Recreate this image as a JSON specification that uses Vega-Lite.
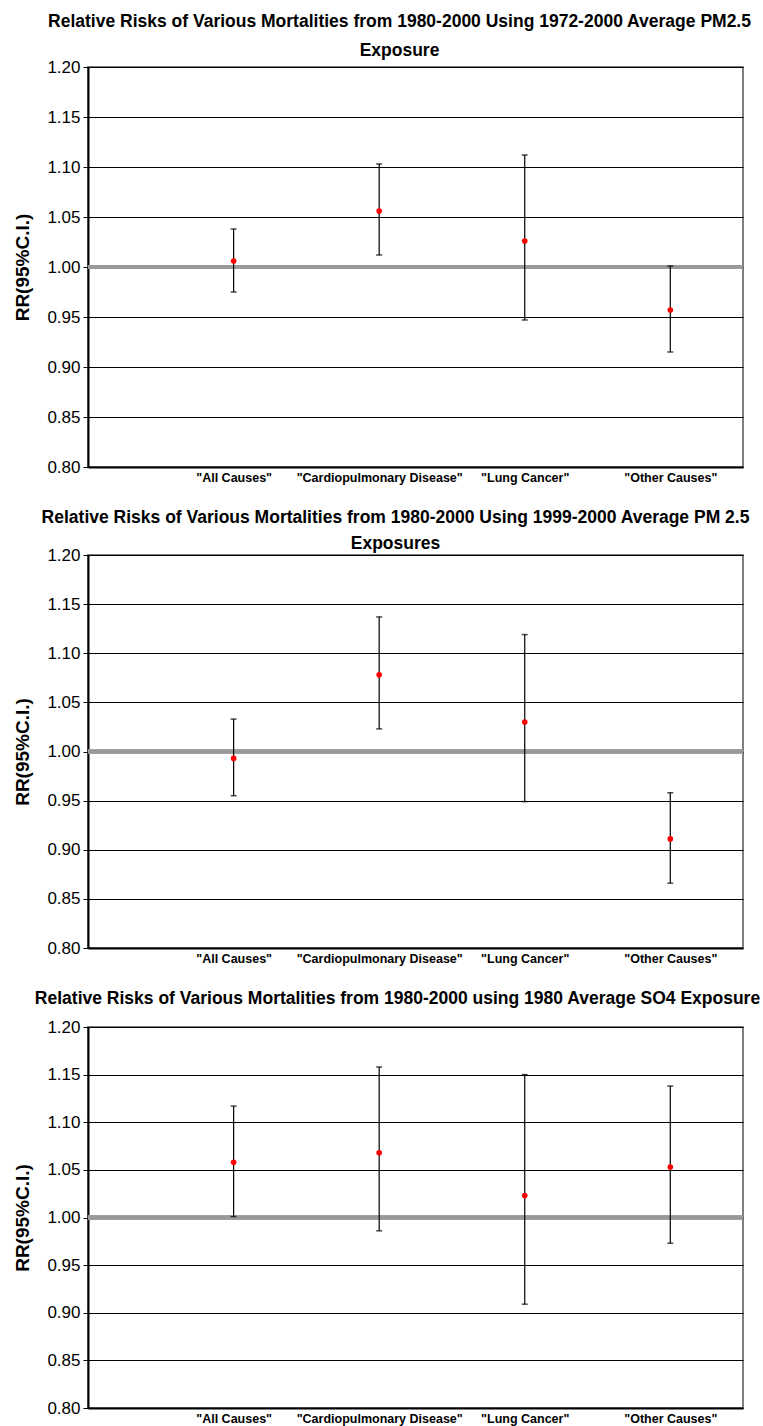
{
  "$schema": "https://vega.github.io/schema/vega-lite/v6.json",
  "padding": {"left": 13, "top": 11, "right": 5, "bottom": 0},
  "background": "white",
  "datasets": {
    "rr": [
      {"study": "A", "cause": "All Causes", "rr": 1.006, "lo": 0.975, "hi": 1.038},
      {"study": "A", "cause": "Cardiopulmonary Disease", "rr": 1.056, "lo": 1.012, "hi": 1.103},
      {"study": "A", "cause": "Lung Cancer", "rr": 1.026, "lo": 0.947, "hi": 1.112},
      {"study": "A", "cause": "Other Causes", "rr": 0.957, "lo": 0.915, "hi": 1.001},
      {"study": "B", "cause": "All Causes", "rr": 0.993, "lo": 0.955, "hi": 1.033},
      {"study": "B", "cause": "Cardiopulmonary Disease", "rr": 1.078, "lo": 1.023, "hi": 1.137},
      {"study": "B", "cause": "Lung Cancer", "rr": 1.030, "lo": 0.949, "hi": 1.119},
      {"study": "B", "cause": "Other Causes", "rr": 0.911, "lo": 0.866, "hi": 0.958},
      {"study": "C", "cause": "All Causes", "rr": 1.058, "lo": 1.001, "hi": 1.117},
      {"study": "C", "cause": "Cardiopulmonary Disease", "rr": 1.068, "lo": 0.986, "hi": 1.158},
      {"study": "C", "cause": "Lung Cancer", "rr": 1.023, "lo": 0.909, "hi": 1.150},
      {"study": "C", "cause": "Other Causes", "rr": 1.053, "lo": 0.973, "hi": 1.138}
    ]
  },
  "config": {
    "font": "Liberation Sans",
    "view": {"stroke": "#555555", "strokeWidth": 1.5},
    "axisY": {
      "values": [0.8, 0.85, 0.9, 0.95, 1.0, 1.05, 1.1, 1.15, 1.2],
      "format": ".2f",
      "grid": true, "gridColor": "#000000", "gridWidth": 1, "gridOpacity": 1,
      "domainColor": "#000000", "domainWidth": 2,
      "tickColor": "#000000", "tickSize": 5, "tickWidth": 1,
      "labelFontSize": 17, "labelColor": "#000000", "labelPadding": 3,
      "titleFontSize": 19, "titleFontWeight": "bold", "titleColor": "#000000", "titlePadding": 14
    },
    "axisX": {
      "domainColor": "#000000", "domainWidth": 2, "ticks": false, "grid": false,
      "labelFontSize": 12.5, "labelFontWeight": "bold", "labelColor": "#000000",
      "labelAngle": 0, "labelPadding": 4
    },
    "title": {"fontSize": 17.5, "fontWeight": "bold", "color": "#000000", "lineHeight": 29, "anchor": "middle", "dx": -16},
    "concat": {"spacing": 22}
  },
  "vconcat": [
    {
      "title": {"text": ["Relative Risks of Various Mortalities from 1980-2000 Using 1972-2000 Average PM2.5", "Exposure"], "offset": -1},
      "width": 655, "height": 400,
      "data": {"name": "rr"},
      "transform": [{"filter": "datum.study == 'A'"}],
      "encoding": {
        "x": {"field": "cause", "type": "nominal", "title": null,
          "scale": {"type": "point", "domain": ["All Causes", "Cardiopulmonary Disease", "Lung Cancer", "Other Causes"], "padding": 0.75, "align": 0.667},
          "axis": {"labelExpr": "'\"' + datum.label + '\"'"}}
      },
      "layer": [
        {"mark": {"type": "rule", "color": "#999999", "strokeWidth": 4}, "encoding": {"x": null, "y": {"datum": 1, "type": "quantitative", "title": "RR(95%C.I.)", "scale": {"domain": [0.8, 1.2]}}}},
        {"mark": {"type": "rule", "color": "#000000", "strokeWidth": 1.2}, "encoding": {"y": {"field": "lo", "type": "quantitative", "title": "RR(95%C.I.)"}, "y2": {"field": "hi"}}},
        {"mark": {"type": "tick", "color": "#000000", "size": 6, "thickness": 1.5}, "encoding": {"y": {"field": "lo", "type": "quantitative", "title": "RR(95%C.I.)"}}},
        {"mark": {"type": "tick", "color": "#000000", "size": 6, "thickness": 1.5}, "encoding": {"y": {"field": "hi", "type": "quantitative", "title": "RR(95%C.I.)"}}},
        {"mark": {"type": "point", "filled": true, "color": "#ff0000", "size": 32, "opacity": 1}, "encoding": {"y": {"field": "rr", "type": "quantitative", "title": "RR(95%C.I.)"}}}
      ]
    },
    {
      "title": {"text": ["Relative Risks of Various Mortalities from 1980-2000 Using 1999-2000 Average PM 2.5", "Exposures"], "offset": -6, "lineHeight": 26, "dx": -20},
      "width": 655, "height": 393,
      "data": {"name": "rr"},
      "transform": [{"filter": "datum.study == 'B'"}],
      "encoding": {
        "x": {"field": "cause", "type": "nominal", "title": null,
          "scale": {"type": "point", "domain": ["All Causes", "Cardiopulmonary Disease", "Lung Cancer", "Other Causes"], "padding": 0.75, "align": 0.667},
          "axis": {"labelExpr": "'\"' + datum.label + '\"'"}}
      },
      "layer": [
        {"mark": {"type": "rule", "color": "#999999", "strokeWidth": 4}, "encoding": {"x": null, "y": {"datum": 1, "type": "quantitative", "title": "RR(95%C.I.)", "scale": {"domain": [0.8, 1.2]}}}},
        {"mark": {"type": "rule", "color": "#000000", "strokeWidth": 1.2}, "encoding": {"y": {"field": "lo", "type": "quantitative", "title": "RR(95%C.I.)"}, "y2": {"field": "hi"}}},
        {"mark": {"type": "tick", "color": "#000000", "size": 6, "thickness": 1.5}, "encoding": {"y": {"field": "lo", "type": "quantitative", "title": "RR(95%C.I.)"}}},
        {"mark": {"type": "tick", "color": "#000000", "size": 6, "thickness": 1.5}, "encoding": {"y": {"field": "hi", "type": "quantitative", "title": "RR(95%C.I.)"}}},
        {"mark": {"type": "point", "filled": true, "color": "#ff0000", "size": 32, "opacity": 1}, "encoding": {"y": {"field": "rr", "type": "quantitative", "title": "RR(95%C.I.)"}}}
      ]
    },
    {
      "title": {"text": "Relative Risks of Various Mortalities from 1980-2000 using 1980 Average SO4 Exposure", "offset": 11, "dx": -18},
      "width": 655, "height": 381,
      "data": {"name": "rr"},
      "transform": [{"filter": "datum.study == 'C'"}],
      "encoding": {
        "x": {"field": "cause", "type": "nominal", "title": null,
          "scale": {"type": "point", "domain": ["All Causes", "Cardiopulmonary Disease", "Lung Cancer", "Other Causes"], "padding": 0.75, "align": 0.667},
          "axis": {"labelExpr": "'\"' + datum.label + '\"'"}}
      },
      "layer": [
        {"mark": {"type": "rule", "color": "#999999", "strokeWidth": 4}, "encoding": {"x": null, "y": {"datum": 1, "type": "quantitative", "title": "RR(95%C.I.)", "scale": {"domain": [0.8, 1.2]}}}},
        {"mark": {"type": "rule", "color": "#000000", "strokeWidth": 1.2}, "encoding": {"y": {"field": "lo", "type": "quantitative", "title": "RR(95%C.I.)"}, "y2": {"field": "hi"}}},
        {"mark": {"type": "tick", "color": "#000000", "size": 6, "thickness": 1.5}, "encoding": {"y": {"field": "lo", "type": "quantitative", "title": "RR(95%C.I.)"}}},
        {"mark": {"type": "tick", "color": "#000000", "size": 6, "thickness": 1.5}, "encoding": {"y": {"field": "hi", "type": "quantitative", "title": "RR(95%C.I.)"}}},
        {"mark": {"type": "point", "filled": true, "color": "#ff0000", "size": 32, "opacity": 1}, "encoding": {"y": {"field": "rr", "type": "quantitative", "title": "RR(95%C.I.)"}}}
      ]
    }
  ]
}
